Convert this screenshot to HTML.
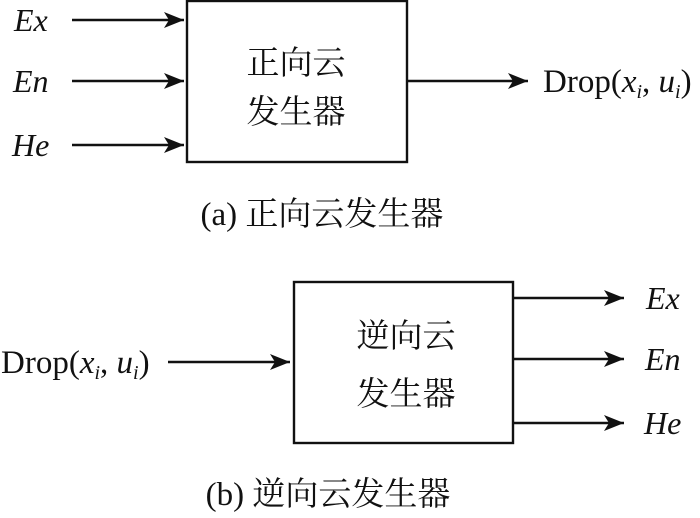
<!DOCTYPE html>
<html><head><meta charset="utf-8"><style>
html,body{margin:0;padding:0;background:#fff;}
svg{display:block;}
.it{font-family:"Liberation Serif",serif;font-style:italic;font-size:32px;}
.rm{font-family:"Liberation Serif",serif;font-size:33px;}
.cj{font-family:"Liberation Serif","Noto Serif CJK SC",serif;font-size:33px;}
</style></head><body>
<svg width="700" height="518" viewBox="0 0 700 518" xmlns="http://www.w3.org/2000/svg">
<defs><marker id="ah" markerWidth="22" markerHeight="18" refX="20" refY="8" orient="auto" markerUnits="userSpaceOnUse"><path d="M0,0 L20,8 L0,16 L5,8 Z" fill="#111"/></marker></defs>
<g stroke="#111" stroke-width="2.4" fill="none">
<rect x="187" y="1" width="220" height="161"/>
<line x1="72" y1="20" x2="184" y2="20" marker-end="url(#ah)"/>
<line x1="72" y1="81" x2="184" y2="81" marker-end="url(#ah)"/>
<line x1="72" y1="145" x2="184" y2="145" marker-end="url(#ah)"/>
<line x1="407" y1="81" x2="528" y2="81" marker-end="url(#ah)"/>
<rect x="294" y="282" width="219" height="161"/>
<line x1="168" y1="362" x2="290" y2="362" marker-end="url(#ah)"/>
<line x1="513" y1="298" x2="624" y2="298" marker-end="url(#ah)"/>
<line x1="513" y1="359" x2="624" y2="359" marker-end="url(#ah)"/>
<line x1="513" y1="423" x2="624" y2="423" marker-end="url(#ah)"/>
</g>
<g fill="#111">
<text class="it" x="14" y="31">Ex</text>
<text class="it" x="13" y="92">En</text>
<text class="it" x="12" y="156">He</text>
<text class="cj" x="296" y="74" text-anchor="middle">正向云</text>
<text class="cj" x="296" y="123" text-anchor="middle">发生器</text>
<text class="rm" x="543" y="92">Drop(<tspan font-style="italic">x</tspan><tspan font-style="italic" font-size="20" dy="6">i</tspan><tspan dy="-6">, </tspan><tspan font-style="italic">u</tspan><tspan font-style="italic" font-size="20" dy="6">i</tspan><tspan dy="-6">)</tspan></text>
<text class="cj" x="322" y="225" text-anchor="middle">(a) 正向云发生器</text>
<text class="cj" x="406" y="347" text-anchor="middle">逆向云</text>
<text class="cj" x="406" y="405" text-anchor="middle">发生器</text>
<text class="rm" x="1" y="373">Drop(<tspan font-style="italic">x</tspan><tspan font-style="italic" font-size="20" dy="6">i</tspan><tspan dy="-6">, </tspan><tspan font-style="italic">u</tspan><tspan font-style="italic" font-size="20" dy="6">i</tspan><tspan dy="-6">)</tspan></text>
<text class="it" x="646" y="309">Ex</text>
<text class="it" x="645" y="370">En</text>
<text class="it" x="644" y="434">He</text>
<text class="cj" x="328" y="505" text-anchor="middle">(b) 逆向云发生器</text>
</g>
</svg>
</body></html>
